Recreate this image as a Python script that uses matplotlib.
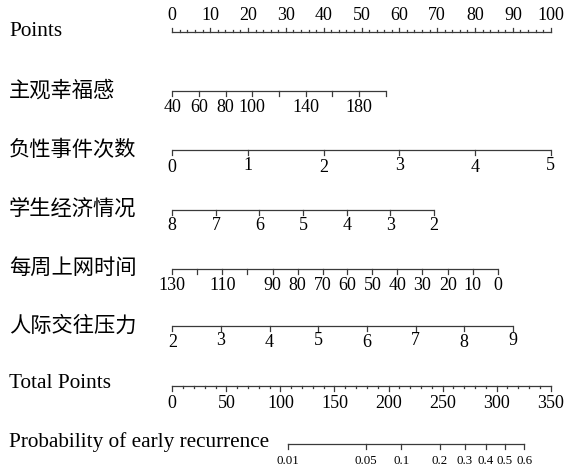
import numpy as np
import matplotlib
matplotlib.use("Agg")
import matplotlib.pyplot as plt

# nomogram data: tick values and the points each one is worth
points_ticks = list(range(0, 101, 10))
points_minor = list(range(0, 101, 2))

swb_vals = [40, 60, 80, 100, 120, 140, 160, 180, 200]
swb_pts = [0, 7.05, 14.1, 21.15, 28.2, 35.25, 42.3, 49.35, 56.4]
swb_lab = ["40", "60", "80", "100", "", "140", "", "180", ""]

neg_vals = [0, 1, 2, 3, 4, 5]
neg_pts = [0, 20, 40, 60, 80, 100]
neg_lab = ["0", "1", "2", "3", "4", "5"]

eco_vals = [8, 7, 6, 5, 4, 3, 2]
eco_pts = [0, 11.5, 23.0, 34.6, 46.1, 57.6, 69.2]
eco_lab = ["8", "7", "6", "5", "4", "3", "2"]

net_vals = [130, 120, 110, 100, 90, 80, 70, 60, 50, 40, 30, 20, 10, 0]
net_pts = [0, 6.6, 13.2, 19.8, 26.5, 33.1, 39.7, 46.3, 52.9, 59.5, 66.1, 72.8, 79.4, 86.0]
net_lab = ["130", "", "110", "", "90", "80", "70", "60", "50", "40", "30", "20", "10", "0"]

soc_vals = [2, 3, 4, 5, 6, 7, 8, 9]
soc_pts = [0, 12.86, 25.71, 38.57, 51.43, 64.29, 77.14, 90.0]
soc_lab = ["2", "3", "4", "5", "6", "7", "8", "9"]

total_ticks = list(range(0, 351, 50))
total_minor = list(range(0, 351, 10))

prob_vals = [0.01, 0.05, 0.1, 0.2, 0.3, 0.4, 0.5, 0.6]
lp_intercept = -7.056   # linear predictor at 0 total points
lp_slope = 0.02293      # per total point

serif = "Liberation Serif"
cjk = ["Noto Sans CJK SC", "DejaVu Sans"]
col = "#3a3a3a"
tick_fs = 13
name_fs = 15.3

fig = plt.figure(figsize=(5.69, 4.70), dpi=100)
ax = fig.add_axes([0, 0, 1, 1])
# x in points units: 0 -> 172.3 px, 100 -> 550.7 px
sc = (550.7 - 172.3) / 100
ax.set_xlim(-172.3 / sc, (569 - 172.3) / sc)
ax.set_ylim(470, 0)
ax.axis("off")

def row(y, pts, labels, ticklen=5, lab_dy=16.5, stagger=0.0, fs=tick_fs):
    ax.plot([pts[0], pts[-1]], [y, y], color=col, lw=0.9, solid_capstyle="butt")
    for i, (p, lab) in enumerate(zip(pts, labels)):
        ax.plot([p, p], [y, y + ticklen], color=col, lw=0.9)
        if lab:
            dy = lab_dy + (stagger if i % 2 == 0 else -stagger)
            ax.text(p, y + dy, lab, ha="center", va="center",
                    fontsize=fs, family=serif, color="black")

def name(y, s, fam):
    ax.text(9 / 569, 1 - y / 470, s, transform=ax.transAxes, ha="left",
            va="center", fontsize=name_fs, family=fam, color="black")

# Points
yp = 32
ax.plot([0, 100], [yp, yp], color=col, lw=0.9)
for p in points_minor:
    ax.plot([p, p], [yp, yp - (4 if p % 10 == 0 else 2)], color=col, lw=0.9)
for p in points_ticks:
    ax.text(p, 16, str(p), ha="center", va="center", fontsize=tick_fs,
            family=serif, color="black")
name(31, "Points", serif)

name(91, "主观幸福感", cjk)
row(91, swb_pts, swb_lab)
name(150, "负性事件次数", cjk)
row(150, neg_pts, neg_lab, stagger=1.5)
name(209, "学生经济情况", cjk)
row(209.7, eco_pts, eco_lab, lab_dy=16)
name(268, "每周上网时间", cjk)
row(269, net_pts, net_lab, lab_dy=16)
name(326, "人际交往压力", cjk)
row(325.7, soc_pts, soc_lab, lab_dy=16, stagger=1)

# Total Points
yt = 386
tp_scale = 100 / 350
ax.plot([0, 100], [yt, yt], color=col, lw=0.9)
for t in total_minor:
    ax.plot([t * tp_scale] * 2, [yt, yt + (5 if t % 50 == 0 else 2)], color=col, lw=0.9)
for t in total_ticks:
    ax.text(t * tp_scale, yt + 17, str(t), ha="center", va="center",
            fontsize=tick_fs, family=serif, color="black")
name(384, "Total Points", serif)

# Probability
ypr = 444
pv = np.array(prob_vals)
prob_tp = (np.log(pv / (1 - pv)) - lp_intercept) / lp_slope
prob_x = prob_tp * tp_scale
ax.plot([prob_x[0], prob_x[-1]], [ypr, ypr], color=col, lw=0.9)
for x, v in zip(prob_x, prob_vals):
    ax.plot([x, x], [ypr, ypr + 5], color=col, lw=0.9)
    ax.text(x, ypr + 16.5, f"{v:g}", ha="center", va="center",
            fontsize=9.3, family=serif, color="black")
name(442, "Probability of early recurrence", serif)

fig.savefig("out.png", dpi=100)
